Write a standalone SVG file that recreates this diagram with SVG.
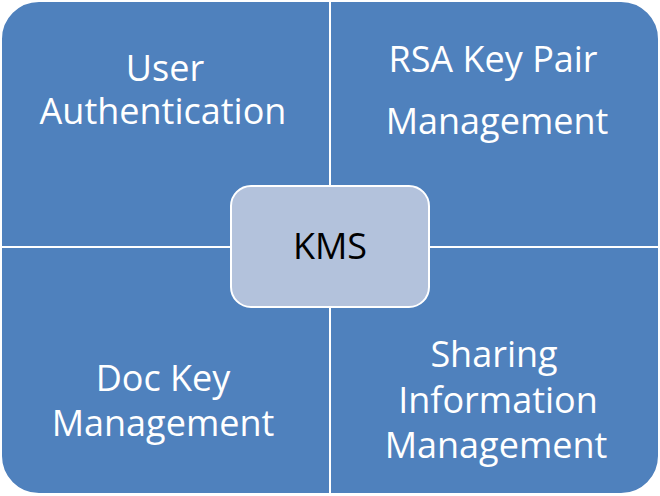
<svg xmlns="http://www.w3.org/2000/svg" width="660" height="496" viewBox="0 0 660 496">
<style>
.q{fill:#4F81BD;stroke:#FFFFFF;stroke-width:2}
.t{font-family:"Open Sans","Noto Sans","DejaVu Sans",sans-serif;font-size:36px;fill:#FFFFFF;text-anchor:middle}
.c{fill:#B3C2DC;stroke:#FFFFFF;stroke-width:2}
.k{font-family:"Open Sans","Noto Sans","DejaVu Sans",sans-serif;font-size:36px;fill:#000000;text-anchor:middle}
</style>
<rect width="660" height="496" fill="#FFFFFF"/>
<g id="user-authentication">
<path class="q" d="M1,247 L1,39 A38,38 0 0 1 39,1 L330,1 L330,247 Z"/>
<text class="t" x="165" y="81">User</text>
<text class="t" x="163" y="124">Authentication</text>
</g>
<g id="rsa-key-pair-management">
<path class="q" d="M330,1 L621,1 A38,38 0 0 1 659,39 L659,247 L330,247 Z"/>
<text class="t" x="493" y="72">RSA Key Pair</text>
<text class="t" x="497" y="134">Management</text>
</g>
<g id="doc-key-management">
<path class="q" d="M1,247 L330,247 L330,494 L39,494 A38,38 0 0 1 1,456 Z"/>
<text class="t" x="163" y="391">Doc Key</text>
<text class="t" x="163" y="436">Management</text>
</g>
<g id="sharing-information-management">
<path class="q" d="M330,247 L659,247 L659,456 A38,38 0 0 1 621,494 L330,494 Z"/>
<text class="t" x="494" y="367">Sharing</text>
<text class="t" x="498" y="413">Information</text>
<text class="t" x="496" y="458">Management</text>
</g>
<g id="connectors"></g>
<g id="kms">
<rect class="c" x="231" y="186" width="198" height="121" rx="20" ry="20"/>
<text class="k" x="330" y="259">KMS</text>
</g>
</svg>
